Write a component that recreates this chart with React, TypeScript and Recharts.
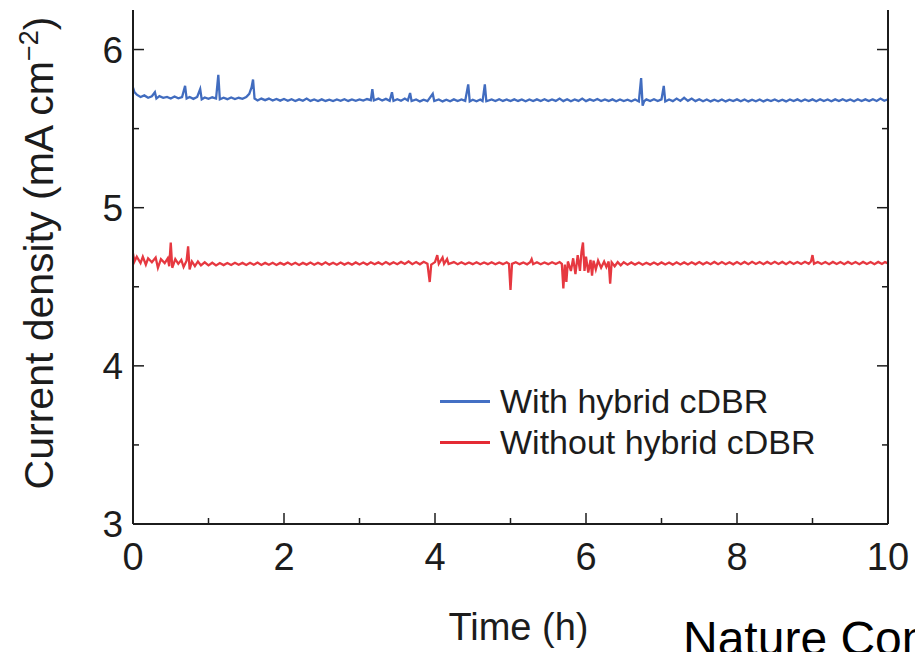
import { LineChart, Line, XAxis, YAxis } from 'recharts'

const timeTicks = [0, 1, 2, 3, 4, 5, 6, 7, 8, 9, 10]
const timeLabels = ['0', '', '2', '', '4', '', '6', '', '8', '', '10']
const currentTicks = [3, 3.5, 4, 4.5, 5, 5.5, 6]
const currentLabels = ['3', '', '4', '', '5', '', '6']

// [time (h), current density (mA cm^-2)]
const withCdbr: [number, number][] = [
  [0, 5.76], [0.02, 5.73], [0.05, 5.715], [0.1, 5.7], [0.15, 5.71], [0.2, 5.695], [0.25, 5.705],
  [0.29, 5.73], [0.31, 5.69], [0.35, 5.705], [0.4, 5.695], [0.45, 5.7], [0.5, 5.69], [0.55, 5.703],
  [0.6, 5.692], [0.65, 5.7], [0.69, 5.77], [0.71, 5.69], [0.75, 5.7], [0.8, 5.688], [0.85, 5.7],
  [0.89, 5.75], [0.91, 5.685], [0.95, 5.697], [1.0, 5.688], [1.05, 5.698], [1.1, 5.69], [1.13, 5.84],
  [1.15, 5.685], [1.2, 5.695], [1.25, 5.686], [1.3, 5.697], [1.35, 5.687], [1.4, 5.695], [1.45, 5.688],
  [1.5, 5.7], [1.54, 5.72], [1.57, 5.76], [1.59, 5.81], [1.61, 5.69], [1.65, 5.678], [1.7, 5.69],
  [1.75, 5.68], [1.8, 5.69], [1.85, 5.678], [1.9, 5.688], [1.95, 5.677], [2.0, 5.687], [2.05, 5.676],
  [2.1, 5.686], [2.15, 5.675], [2.2, 5.685], [2.25, 5.676], [2.3, 5.69], [2.35, 5.675], [2.4, 5.684],
  [2.45, 5.674], [2.5, 5.685], [2.55, 5.675], [2.6, 5.683], [2.65, 5.674], [2.7, 5.684], [2.75, 5.676],
  [2.8, 5.686], [2.85, 5.675], [2.9, 5.684], [2.95, 5.676], [3.0, 5.685], [3.05, 5.677], [3.1, 5.687],
  [3.15, 5.68], [3.17, 5.75], [3.19, 5.678], [3.25, 5.69], [3.3, 5.678], [3.35, 5.688], [3.4, 5.676],
  [3.43, 5.73], [3.45, 5.675], [3.5, 5.686], [3.55, 5.676], [3.6, 5.69], [3.64, 5.678], [3.67, 5.725],
  [3.69, 5.674], [3.75, 5.684], [3.8, 5.672], [3.85, 5.683], [3.9, 5.674], [3.97, 5.72], [3.99, 5.674],
  [4.05, 5.684], [4.1, 5.672], [4.15, 5.683], [4.2, 5.673], [4.25, 5.685], [4.3, 5.674], [4.35, 5.684],
  [4.4, 5.675], [4.44, 5.78], [4.46, 5.672], [4.5, 5.683], [4.55, 5.673], [4.6, 5.684], [4.63, 5.674],
  [4.66, 5.78], [4.68, 5.673], [4.75, 5.684], [4.8, 5.674], [4.85, 5.686], [4.9, 5.675], [4.95, 5.684],
  [5.0, 5.674], [5.05, 5.685], [5.1, 5.675], [5.15, 5.684], [5.2, 5.673], [5.25, 5.684], [5.3, 5.674],
  [5.35, 5.685], [5.4, 5.675], [5.45, 5.686], [5.5, 5.674], [5.55, 5.684], [5.6, 5.675], [5.65, 5.69],
  [5.7, 5.674], [5.75, 5.686], [5.8, 5.673], [5.85, 5.684], [5.9, 5.675], [5.95, 5.69], [6.0, 5.674],
  [6.05, 5.685], [6.1, 5.676], [6.15, 5.687], [6.2, 5.674], [6.25, 5.684], [6.3, 5.675], [6.35, 5.685],
  [6.4, 5.673], [6.45, 5.684], [6.5, 5.674], [6.55, 5.683], [6.6, 5.673], [6.65, 5.684], [6.7, 5.672],
  [6.73, 5.82], [6.75, 5.645], [6.77, 5.673], [6.8, 5.685], [6.85, 5.675], [6.9, 5.686], [6.95, 5.674],
  [7.0, 5.685], [7.03, 5.77], [7.05, 5.672], [7.1, 5.684], [7.15, 5.674], [7.2, 5.69], [7.25, 5.675],
  [7.3, 5.695], [7.35, 5.676], [7.4, 5.69], [7.45, 5.674], [7.5, 5.686], [7.55, 5.673], [7.6, 5.684],
  [7.65, 5.672], [7.7, 5.683], [7.75, 5.673], [7.8, 5.684], [7.85, 5.672], [7.9, 5.683], [7.95, 5.674],
  [8.0, 5.685], [8.05, 5.673], [8.1, 5.684], [8.15, 5.672], [8.2, 5.683], [8.25, 5.673], [8.3, 5.684],
  [8.35, 5.672], [8.4, 5.683], [8.45, 5.674], [8.5, 5.684], [8.55, 5.673], [8.6, 5.683], [8.65, 5.672],
  [8.7, 5.684], [8.75, 5.674], [8.8, 5.685], [8.85, 5.673], [8.9, 5.684], [8.95, 5.674], [9.0, 5.685],
  [9.05, 5.673], [9.1, 5.686], [9.15, 5.674], [9.2, 5.684], [9.25, 5.673], [9.3, 5.685], [9.35, 5.674],
  [9.4, 5.686], [9.45, 5.675], [9.5, 5.684], [9.55, 5.673], [9.6, 5.686], [9.65, 5.675], [9.7, 5.685],
  [9.75, 5.674], [9.8, 5.686], [9.85, 5.675], [9.9, 5.69], [9.95, 5.676], [10.0, 5.685],
]

const withoutCdbr: [number, number][] = [
  [0, 4.71], [0.02, 4.66], [0.05, 4.69], [0.1, 4.65], [0.13, 4.69], [0.17, 4.64], [0.2, 4.68],
  [0.25, 4.655], [0.3, 4.685], [0.33, 4.62], [0.37, 4.675], [0.42, 4.65], [0.46, 4.68], [0.48, 4.63],
  [0.5, 4.78], [0.52, 4.62], [0.56, 4.675], [0.6, 4.645], [0.64, 4.67], [0.67, 4.625], [0.71, 4.665],
  [0.73, 4.755], [0.75, 4.61], [0.78, 4.66], [0.82, 4.63], [0.86, 4.66], [0.9, 4.635], [0.95, 4.655],
  [1.0, 4.635], [1.05, 4.652], [1.1, 4.635], [1.15, 4.65], [1.2, 4.637], [1.25, 4.65], [1.3, 4.638],
  [1.35, 4.652], [1.4, 4.639], [1.45, 4.651], [1.5, 4.638], [1.55, 4.652], [1.6, 4.639], [1.65, 4.653],
  [1.7, 4.638], [1.75, 4.651], [1.8, 4.639], [1.85, 4.652], [1.9, 4.638], [1.95, 4.651], [2.0, 4.64],
  [2.05, 4.653], [2.1, 4.639], [2.15, 4.652], [2.2, 4.638], [2.25, 4.651], [2.3, 4.64], [2.35, 4.653],
  [2.4, 4.639], [2.45, 4.652], [2.5, 4.64], [2.55, 4.655], [2.6, 4.64], [2.65, 4.652], [2.7, 4.639],
  [2.75, 4.653], [2.8, 4.64], [2.85, 4.652], [2.9, 4.64], [2.95, 4.654], [3.0, 4.641], [3.05, 4.653],
  [3.1, 4.64], [3.15, 4.655], [3.2, 4.642], [3.25, 4.654], [3.3, 4.641], [3.35, 4.656], [3.4, 4.642],
  [3.45, 4.655], [3.5, 4.643], [3.55, 4.657], [3.6, 4.644], [3.65, 4.66], [3.7, 4.643], [3.75, 4.656],
  [3.8, 4.642], [3.85, 4.658], [3.9, 4.645], [3.93, 4.53], [3.95, 4.64], [4.0, 4.656], [4.03, 4.7],
  [4.05, 4.645], [4.1, 4.685], [4.12, 4.645], [4.16, 4.675], [4.18, 4.644], [4.25, 4.656], [4.3, 4.643],
  [4.35, 4.655], [4.4, 4.642], [4.45, 4.654], [4.5, 4.643], [4.55, 4.655], [4.6, 4.642], [4.65, 4.654],
  [4.7, 4.643], [4.75, 4.655], [4.8, 4.642], [4.85, 4.654], [4.9, 4.643], [4.95, 4.655], [4.98, 4.645],
  [5.0, 4.48], [5.02, 4.645], [5.07, 4.655], [5.12, 4.643], [5.17, 4.654], [5.22, 4.642], [5.26, 4.655],
  [5.28, 4.675], [5.3, 4.643], [5.35, 4.655], [5.4, 4.642], [5.45, 4.654], [5.5, 4.643], [5.55, 4.655],
  [5.6, 4.644], [5.65, 4.656], [5.68, 4.645], [5.7, 4.49], [5.72, 4.64], [5.74, 4.53], [5.76, 4.66],
  [5.8, 4.6], [5.83, 4.68], [5.86, 4.58], [5.89, 4.7], [5.92, 4.6], [5.94, 4.72], [5.96, 4.78],
  [5.98, 4.6], [6.0, 4.69], [6.03, 4.59], [6.06, 4.67], [6.08, 4.57], [6.1, 4.665], [6.13, 4.61],
  [6.16, 4.665], [6.2, 4.62], [6.24, 4.66], [6.27, 4.625], [6.3, 4.66], [6.32, 4.52], [6.34, 4.655],
  [6.38, 4.63], [6.42, 4.656], [6.46, 4.636], [6.5, 4.655], [6.55, 4.64], [6.6, 4.654], [6.65, 4.64],
  [6.7, 4.653], [6.75, 4.639], [6.8, 4.652], [6.85, 4.64], [6.9, 4.653], [6.95, 4.64], [7.0, 4.654],
  [7.05, 4.641], [7.1, 4.653], [7.15, 4.64], [7.2, 4.655], [7.25, 4.641], [7.3, 4.654], [7.35, 4.641],
  [7.4, 4.655], [7.45, 4.642], [7.5, 4.656], [7.55, 4.642], [7.6, 4.655], [7.65, 4.643], [7.7, 4.657],
  [7.75, 4.643], [7.8, 4.656], [7.85, 4.643], [7.9, 4.655], [7.95, 4.642], [8.0, 4.656], [8.05, 4.643],
  [8.1, 4.657], [8.15, 4.643], [8.2, 4.658], [8.25, 4.644], [8.3, 4.656], [8.35, 4.643], [8.4, 4.657],
  [8.45, 4.644], [8.5, 4.658], [8.55, 4.644], [8.6, 4.657], [8.65, 4.643], [8.7, 4.658], [8.75, 4.644],
  [8.8, 4.657], [8.85, 4.644], [8.9, 4.658], [8.95, 4.645], [8.98, 4.66], [9.0, 4.7], [9.02, 4.645],
  [9.07, 4.657], [9.12, 4.644], [9.17, 4.656], [9.22, 4.643], [9.27, 4.657], [9.32, 4.644], [9.37, 4.656],
  [9.42, 4.643], [9.47, 4.657], [9.52, 4.644], [9.57, 4.656], [9.62, 4.643], [9.67, 4.657], [9.72, 4.644],
  [9.77, 4.656], [9.82, 4.643], [9.87, 4.657], [9.92, 4.644], [9.96, 4.656], [10.0, 4.648],
]

const SERIES = [
  { key: 'with', label: 'With hybrid cDBR', color: '#2c5cb8', legendColor: '#4470c4', points: withCdbr },
  { key: 'without', label: 'Without hybrid cDBR', color: '#e3222b', legendColor: '#e42a34', points: withoutCdbr },
]

const FONT = '"Liberation Sans", Arial, Helvetica, sans-serif'
const INK = '#1c1c1c'

function TimeTick(props: any) {
  const { x, y, index } = props
  const label = timeLabels[index] ?? ''
  return (
    <g>
      <line x1={x} x2={x} y1={y} y2={y - (label ? 11 : 6)} stroke={INK} strokeWidth={1.5} />
      {label && (
        <text x={x} y={y + 46} textAnchor="middle" fontSize={38} fontFamily={FONT} fill={INK}>
          {label}
        </text>
      )}
    </g>
  )
}

function CurrentTick(props: any) {
  const { x, y, index } = props
  const label = currentLabels[index] ?? ''
  return (
    <g>
      <line x1={x} x2={x + (label ? 11 : 6)} y1={y} y2={y} stroke={INK} strokeWidth={1.5} />
      {label && (
        <text x={x - 10} y={y + 13} textAnchor="end" fontSize={37} fontFamily={FONT} fill={INK}>
          {label}
        </text>
      )}
    </g>
  )
}

function RightTick(props: any) {
  const { x, y, index } = props
  const major = currentLabels[index] !== ''
  return <line x1={x} x2={x - (major ? 11 : 6)} y1={y} y2={y} stroke={INK} strokeWidth={1.5} />
}

export default function App() {
  return (
    <div
      style={{
        position: 'absolute',
        left: 0,
        top: 0,
        width: 915,
        height: 652,
        overflow: 'hidden',
        background: '#fff',
        fontFamily: FONT,
      }}
    >
      <LineChart width={915} height={652} margin={{ top: 10, right: 0, bottom: 0, left: 0 }}>
        <XAxis
          dataKey="t"
          type="number"
          domain={[0, 10]}
          ticks={timeTicks}
          interval={0}
          allowDataOverflow
          height={128}
          tickSize={0}
          tickMargin={0}
          tickLine={false}
          axisLine={{ stroke: INK, strokeWidth: 2 }}
          tick={<TimeTick />}
          label={{
            value: 'Time (h)',
            position: 'insideBottom',
            offset: 12,
            fontSize: 38,
            fontFamily: FONT,
            fill: INK,
            dx: 8,
          }}
        />
        <YAxis
          yAxisId="left"
          type="number"
          domain={[3, 6.25]}
          ticks={currentTicks}
          interval={0}
          allowDataOverflow
          width={133}
          tickSize={0}
          tickMargin={0}
          tickLine={false}
          axisLine={{ stroke: INK, strokeWidth: 2 }}
          tick={<CurrentTick />}
          label={{
            content: () => (
              <text
                transform="translate(53, 253) rotate(-90)"
                textAnchor="middle"
                fontSize={41}
                fontFamily={FONT}
                fill={INK}
              >
                Current density (mA cm
                <tspan dy={-15} fontSize={27}>−2</tspan>
                <tspan dy={15}>)</tspan>
              </text>
            ),
          }}
        />
        <YAxis
          yAxisId="right"
          orientation="right"
          type="number"
          domain={[3, 6.25]}
          ticks={currentTicks}
          interval={0}
          allowDataOverflow
          width={27}
          tickSize={0}
          tickMargin={0}
          tickLine={false}
          axisLine={{ stroke: INK, strokeWidth: 2 }}
          tick={<RightTick />}
        />
        {SERIES.map((s) => (
          <Line
            key={s.key}
            yAxisId="left"
            data={s.points.map(([t, v]) => ({ t, v }))}
            dataKey="v"
            name={s.label}
            type="linear"
            stroke={s.color}
            strokeWidth={2.3}
            strokeOpacity={0.9}
            dot={false}
            activeDot={false}
            isAnimationActive={false}
          />
        ))}
      </LineChart>

      <div
        style={{
          position: 'absolute',
          left: 440,
          top: 381,
          fontFamily: FONT,
          fontSize: 34,
          color: INK,
          lineHeight: '41px',
        }}
      >
        {SERIES.map((s) => (
          <div key={s.key} style={{ display: 'flex', alignItems: 'center', height: 41 }}>
            <div style={{ width: 50, height: 3, background: s.legendColor, marginRight: 10 }} />
            <span style={{ whiteSpace: 'nowrap' }}>{s.label}</span>
          </div>
        ))}
      </div>

      <div
        style={{
          position: 'absolute',
          left: 683,
          top: 615,
          fontSize: 48,
          lineHeight: '48px',
          fontFamily: FONT,
          color: '#000',
          whiteSpace: 'nowrap',
        }}
      >
        Nature Communications
      </div>
    </div>
  )
}
